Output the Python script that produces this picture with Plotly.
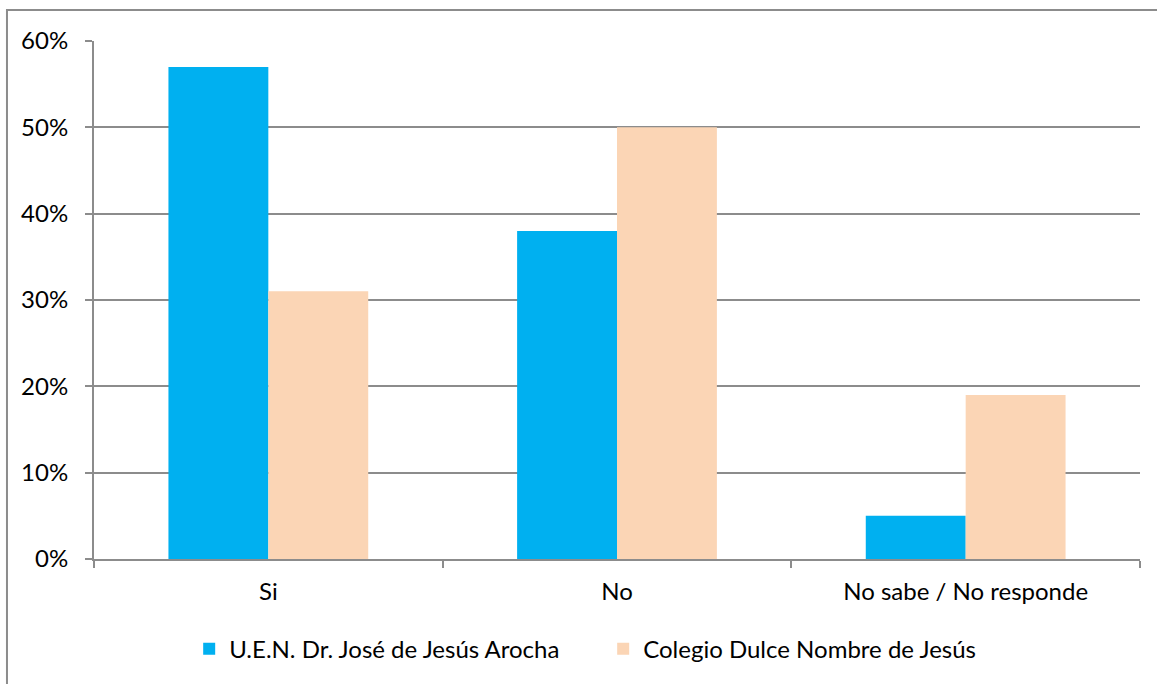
import plotly.graph_objects as go

categories = ["Si", "No", "No sabe / No responde"]
series_names = ["U.E.N. Dr. José de Jesús Arocha", "Colegio Dulce Nombre de Jesús"]
arocha_values = [0.57, 0.38, 0.05]
dulce_values = [0.31, 0.50, 0.19]
y_ticks = [0, 0.1, 0.2, 0.3, 0.4, 0.5, 0.6]
y_tick_labels = ["0%", "10%", "20%", "30%", "40%", "50%", "60%"]

FONT = "Lato, Carlito, Calibri, sans-serif"
GRID = "#8c8c8c"
FS = 24

fig = go.Figure()
fig.add_trace(go.Bar(x=categories, y=arocha_values, name=series_names[0],
                     marker=dict(color="#00B0F0", line=dict(width=0))))
fig.add_trace(go.Bar(x=categories, y=dulce_values, name=series_names[1],
                     marker=dict(color="#FBD5B5", line=dict(width=0))))

fig.update_layout(
    width=1157, height=684,
    margin=dict(l=94, r=17, t=41, b=125),
    paper_bgcolor="white", plot_bgcolor="white",
    barmode="group", bargap=0.427, bargroupgap=0,
    font=dict(family=FONT, size=FS, color="black"),
    showlegend=True,
    legend=dict(orientation="h", x=0.091, xanchor="left", y=-0.174, yanchor="middle",
                font=dict(size=FS), itemwidth=30, traceorder="normal",
                entrywidth=369, entrywidthmode="pixels"),
    xaxis=dict(type="category", showline=True, linecolor=GRID, linewidth=2,
               ticks="outside", tickson="boundaries", ticklen=7, tickcolor=GRID,
               tickwidth=2, showgrid=False, tickfont=dict(size=FS),
               ticklabelstandoff=10),
    yaxis=dict(range=[0, 0.6], tickvals=y_ticks, ticktext=y_tick_labels,
               showline=True, linecolor=GRID, linewidth=2, ticks="outside",
               ticklen=7, tickcolor=GRID, tickwidth=2, showgrid=True,
               gridcolor=GRID, gridwidth=2, zeroline=False, tickfont=dict(size=FS),
               ticklabelstandoff=12),
    shapes=[dict(type="rect", xref="paper", yref="paper",
                 x0=-0.0832, x1=1.03, y0=-0.3, y1=1.0598,
                 line=dict(color="#8c8c8c", width=2), fillcolor="rgba(0,0,0,0)",
                 layer="below")],
)

fig.write_html("out.html")
